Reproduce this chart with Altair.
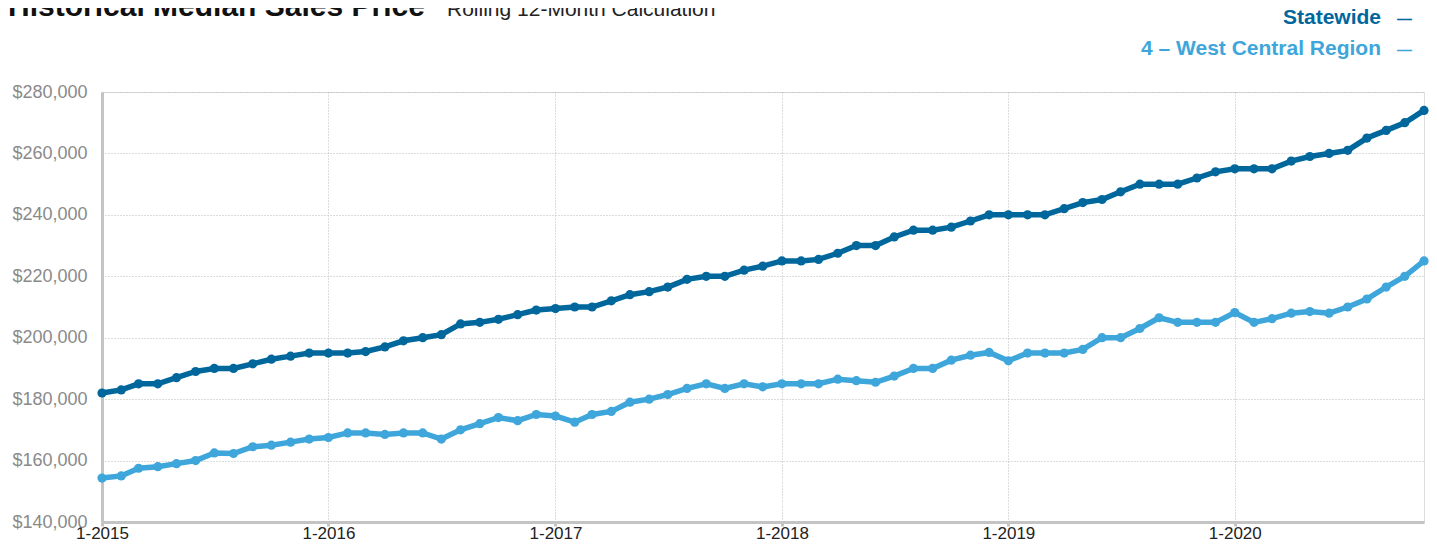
import altair as alt
import pandas as pd

# ---- data ----
MONTHS = [d.strftime("%Y-%m-%dT00:00:00") for d in pd.date_range("2015-01-01", periods=71, freq="MS")]

STATEWIDE = [
    182000, 183000, 185000, 185000, 187000, 189000, 190000, 190000, 191500, 193000, 194000, 195000,
    195000, 195000, 195500, 197000, 199000, 200000, 201000, 204500, 205000, 206000, 207500, 209000,
    209500, 210000, 210000, 212000, 214000, 215000, 216500, 219000, 220000, 220000, 222000, 223300,
    225000, 225000, 225500, 227500, 230000, 230000, 232800, 235000, 235000, 236000, 238000, 240000,
    240000, 240000, 240000, 242000, 244000, 245000, 247500, 250000, 250000, 250000, 252000, 254000,
    255000, 255000, 255000, 257500, 259000, 260000, 261000, 265000, 267500, 270000, 274000,
]

WEST_CENTRAL = [
    154300, 155000, 157500, 158000, 159000, 160000, 162500, 162300, 164500, 165000, 166000, 167000,
    167500, 169000, 169000, 168500, 169000, 169000, 167000, 170000, 172000, 174000, 173000, 175000,
    174500, 172500, 175000, 176000, 179000, 180000, 181500, 183500, 185000, 183500, 185000, 184000,
    185000, 185000, 185000, 186500, 186000, 185500, 187500, 190000, 190000, 192700, 194300, 195200,
    192500, 195000, 195000, 195000, 196200, 200000, 200000, 203000, 206500, 205000, 205000, 205000,
    208200, 205000, 206200, 208000, 208500, 208000, 210000, 212600, 216500, 220000, 225000,
]

SERIES = ["Statewide", "4 – West Central Region"]
COLORS = ["#00679d", "#3ea6da"]
Y_TICKS = [140000, 160000, 180000, 200000, 220000, 240000, 260000, 280000]
X_TICK_YEARS = [2015, 2016, 2017, 2018, 2019, 2020]

TITLE = ["Historical Median Sales Price"]
SUBTITLE = ["Rolling 12-Month Calculation"]
LEGEND_DASH = ["—"]

FONT = "Liberation Sans"

df = pd.DataFrame({
    "date": MONTHS * 2,
    "price": STATEWIDE + WEST_CENTRAL,
    "series": [SERIES[0]] * len(MONTHS) + [SERIES[1]] * len(MONTHS),
})

W, H = 1322, 430
PAD_L, PAD_T = 94, 84

x_enc = alt.X(
    "date:T",
    title=None,
    scale=alt.Scale(domain=[alt.DateTime(year=2015, month=1, date=1),
                            alt.DateTime(year=2020, month=11, date=1)]),
    axis=alt.Axis(
        values=[alt.DateTime(year=y, month=1, date=1) for y in X_TICK_YEARS],
        format="%-m-%Y",
        labelFontSize=17, labelColor="#222222", labelFont=FONT,
        labelPadding=-1, tickSize=4, tickWidth=3, tickColor="#c4c4c4",
        domainColor="#c4c4c4", domainWidth=3,
        grid=True, gridColor="#b8b8b8", gridDash=[1, 2], gridWidth=1,
        labelFlush=False,
    ),
)
y_enc = alt.Y(
    "price:Q",
    title=None,
    scale=alt.Scale(domain=[140000, 280000], nice=False, zero=False),
    axis=alt.Axis(
        values=Y_TICKS, format="$,.0f",
        labelFontSize=18, labelColor="#8a8a8a", labelFont=FONT,
        labelPadding=15, ticks=False,
        domainColor="#c4c4c4", domainWidth=3,
        grid=True, gridColor="#b8b8b8", gridDash=[1, 2], gridWidth=1,
    ),
)

lines = alt.Chart(df).mark_line(
    strokeWidth=5.5,
    point=alt.OverlayMarkDef(size=85, filled=True, opacity=1),
).encode(
    x=x_enc,
    y=y_enc,
    color=alt.Color("series:N", scale=alt.Scale(domain=SERIES, range=COLORS), legend=None),
    detail="series:N",
)

title = alt.Chart(pd.DataFrame({"t": TITLE})).mark_text(
    align="left", baseline="alphabetic", font=FONT, fontSize=30, fontWeight="bold", color="#111111",
).encode(text="t:N", x=alt.value(-PAD_L), y=alt.value(8 - PAD_T))

subtitle = alt.Chart(pd.DataFrame({"t": SUBTITLE})).mark_text(
    align="left", baseline="alphabetic", font=FONT, fontSize=21, color="#222222",
).encode(text="t:N", x=alt.value(439 - PAD_L), y=alt.value(8 - PAD_T))

leg_df = pd.DataFrame({"t": SERIES, "c": COLORS, "yy": [15.5 - PAD_T, 46.5 - PAD_T]})

leg_text = alt.Chart(leg_df).mark_text(
    align="right", baseline="alphabetic", font=FONT, fontSize=21, fontWeight="bold",
).encode(
    text="t:N",
    x=alt.value(1373 - PAD_L),
    y=alt.Y("yy:Q", scale=None),
    color=alt.Color("c:N", scale=None, legend=None),
)

leg_dash = alt.Chart(leg_df.assign(d=LEGEND_DASH * 2)).mark_text(
    align="center", baseline="alphabetic", font=FONT, fontSize=15, fontWeight="bold",
).encode(
    text="d:N",
    x=alt.value(1396.5 - PAD_L),
    y=alt.Y("yy:Q", scale=None),
    color=alt.Color("c:N", scale=None, legend=None),
)

chart = alt.layer(lines, title, subtitle, leg_text, leg_dash).resolve_scale(
    color="independent", y="independent"
).properties(
    width=W, height=H,
    autosize=alt.AutoSizeParams(type="none"),
    padding={"left": PAD_L, "top": PAD_T, "right": 1421 - PAD_L - W, "bottom": 536 - PAD_T - H},
).configure_view(
    stroke="#b8b8b8", strokeDash=[1, 2], strokeWidth=1,
).configure(background="white")

chart.save("out.html", embed_options={"renderer": "svg", "actions": False})
